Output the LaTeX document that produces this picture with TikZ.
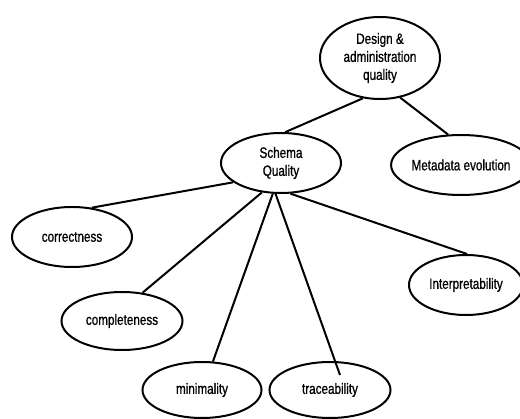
\documentclass[tikz,border=0pt]{standalone}
\usepackage{fontspec}
\setmainfont{Liberation Sans}[FakeStretch=0.78, FakeBold=0.8]
\usetikzlibrary{shapes.geometric,calc}

\tikzset{
  concept/.style={ellipse, draw=black, line width=2pt, inner sep=0pt,
    font=\fontsize{15}{18}\selectfont, align=center, text=black},
  link/.style={draw=black, line width=2pt}
}

\begin{document}
\begin{tikzpicture}[x=1pt, y=-1pt]
  \fill[white] (0,0) rectangle (520,419);
  \useasboundingbox (0,0) rectangle (520,419);

  % quality concepts
  \node[concept, minimum width=120pt, minimum height=82pt] (design) at (380,58)
    {Design \&\\administration\\quality};
  \node[concept, minimum width=118pt, minimum height=60pt] (meta) at (461,165)
    {Metadata evolution};
  \node[concept, minimum width=120pt, minimum height=60pt] (schema) at (281,163)
    {Schema\\Quality};
  \node[concept, minimum width=120pt, minimum height=60pt] (correct) at (72,237)
    {correctness};
  \node[concept, minimum width=121pt, minimum height=58pt] (complete) at (122,321)
    {completeness};
  \node[concept, minimum width=119pt, minimum height=56pt] (minim) at (202,390)
    {minimality};
  \node[concept, minimum width=121pt, minimum height=56pt] (trace) at (330,390)
    {traceability};
  \node[concept, minimum width=114pt, minimum height=60pt] (interp) at (466,285)
    {Interpretability};

  \coordinate (traceend) at ($(trace.center)+(10,-15)$);

  % hierarchy links
  \draw[link] (design.247) -- (schema.82);
  \draw[link] (design.297) -- (meta.113);
  \draw[link] (schema.202) -- (correct.56);
  \draw[link] (schema.237) -- (complete.54);
  \draw[link] (schema.255) -- (minim.69);
  \draw[link] (schema.260) -- (traceend);
  \draw[link] (schema.287) -- (interp.88);
\end{tikzpicture}
\end{document}
